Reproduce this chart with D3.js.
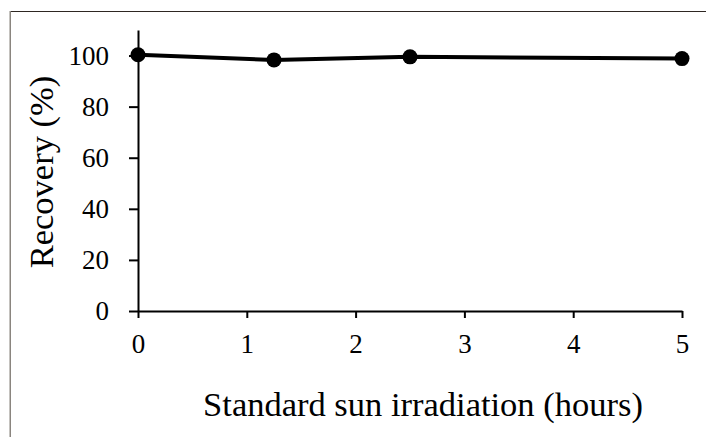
<!DOCTYPE html>
<html>
<head>
<meta charset="utf-8">
<script src="https://cdn.jsdelivr.net/npm/d3@7"></script>
<style>
  html, body { margin: 0; padding: 0; background: #fff; }
  svg { display: block; }
  svg text { font-family: "Liberation Serif", "Times New Roman", serif !important; fill: #000; }
</style>
</head>
<body>
<svg id="chart" width="706" height="437"></svg>
<script>
// Recovery after standard sun irradiation
const hours = [0, 1.25, 2.5, 5];
const recovery = [100.3, 98.3, 99.5, 98.8];
const xTicks = [0, 1, 2, 3, 4, 5];
const yTicks = [0, 20, 40, 60, 80, 100];

(function () {
  const svg = d3.select("#chart");
  const W = 706, H = 437;
  const plotLeft = 138, plotRight = 682, plotTop = 30, plotBottom = 311;
  const serif = '"Liberation Serif", "Times New Roman", serif';

  // outer frame (top and left edges fall inside the view)
  svg.append("line").attr("x1", 10).attr("x2", W).attr("y1", 11.5).attr("y2", 11.5)
    .attr("stroke", "#2e2722").attr("stroke-width", 1);
  svg.append("line").attr("x1", 10.25).attr("x2", 10.25).attr("y1", 11).attr("y2", H)
    .attr("stroke", "#8a857f").attr("stroke-width", 1.5);

  const x = d3.scaleLinear().domain([0, 5]).range([plotLeft, plotRight]);
  const y = d3.scaleLinear().domain([0, 110]).range([plotBottom, plotTop]);

  // y axis
  const yAxis = svg.append("g").attr("transform", `translate(${plotLeft},0)`)
    .call(d3.axisLeft(y).tickValues(yTicks).tickFormat(d3.format("d"))
      .tickSize(9).tickPadding(20).tickSizeOuter(0));
  yAxis.attr("font-family", serif).attr("font-size", 27);
  yAxis.select(".domain").attr("stroke", "#000").attr("stroke-width", 2);
  yAxis.selectAll(".tick line").attr("stroke", "#000").attr("stroke-width", 2);
  yAxis.selectAll(".tick text").style("font-family", serif).style("font-size", "27px").attr("fill", "#000");

  // x axis
  const xAxis = svg.append("g").attr("transform", `translate(0,${plotBottom})`)
    .call(d3.axisBottom(x).tickValues(xTicks).tickFormat(d3.format("d"))
      .tickSize(7).tickPadding(16).tickSizeOuter(0));
  xAxis.attr("font-family", serif).attr("font-size", 27);
  xAxis.select(".domain").attr("stroke", "#000").attr("stroke-width", 2);
  xAxis.selectAll(".tick line").attr("stroke", "#000").attr("stroke-width", 2);
  xAxis.selectAll(".tick text").style("font-family", serif).style("font-size", "27px").attr("fill", "#000");

  // data line and markers
  const pts = hours.map((h, i) => [h, recovery[i]]);
  svg.append("path").datum(pts)
    .attr("fill", "none").attr("stroke", "#000").attr("stroke-width", 4)
    .attr("d", d3.line().x(d => x(d[0])).y(d => y(d[1])));
  svg.selectAll("circle.pt").data(pts).enter().append("circle")
    .attr("class", "pt")
    .attr("cx", d => x(d[0])).attr("cy", d => y(d[1])).attr("r", 7.5)
    .attr("fill", "#000");

  // axis titles
  svg.append("text").attr("x", 423).attr("y", 416).attr("text-anchor", "middle")
    .style("font-size", "34.5px").text("Standard sun irradiation (hours)");
  svg.append("text").attr("transform", "translate(53,172) rotate(-90)")
    .attr("text-anchor", "middle").style("font-size", "34.5px").text("Recovery (%)");
})();
</script>
</body>
</html>
